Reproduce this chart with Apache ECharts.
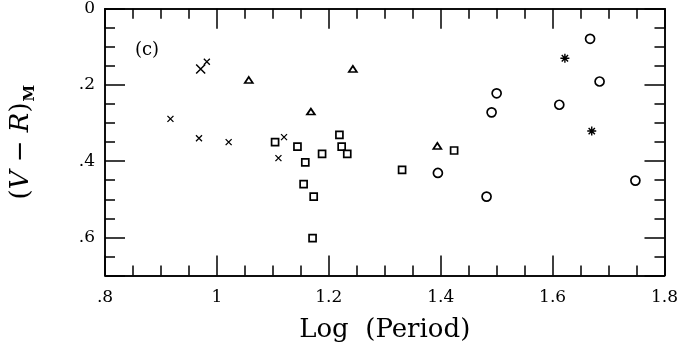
<!DOCTYPE html>
<html>
<head>
<meta charset="utf-8">
<script src="https://cdn.jsdelivr.net/npm/echarts@6/dist/echarts.min.js"></script>
<style>
  html, body { margin: 0; padding: 0; background: #fff; }
  #chart { width: 681px; height: 353px; }
</style>
</head>
<body>
<div id="chart"></div>
<script>
// values: [log P, (V-R)_M]
const crosses = [[0.917, 0.289], [0.982, 0.139], [0.968, 0.340], [1.021, 0.350], [1.120, 0.337], [1.110, 0.392]];
const bigCross = [[0.971, 0.158]];
const triangles = [[1.057, 0.187], [1.243, 0.158], [1.168, 0.270], [1.394, 0.360]];
const squares = [
  [1.104, 0.350], [1.144, 0.362], [1.219, 0.331], [1.223, 0.362], [1.233, 0.381],
  [1.188, 0.381], [1.158, 0.403], [1.155, 0.460], [1.173, 0.493], [1.171, 0.602],
  [1.331, 0.423], [1.424, 0.372]
];
const circles = [
  [1.395, 0.431], [1.667, 0.079], [1.684, 0.191], [1.500, 0.222], [1.491, 0.272],
  [1.612, 0.252], [1.748, 0.451], [1.482, 0.493]
];
const stars = [[1.622, 0.130], [1.670, 0.321]];

const xTicks = ['.8', '1', '1.2', '1.4', '1.6', '1.8'];
const yTicks = ['0', '.2', '.4', '.6'];

const serif = '"DejaVu Serif", "Liberation Serif", serif';
const black = '#000';

const crossPath = 'path://M0 0L10 10M10 0L0 10';
const starPath = 'path://M5 0L5 10M0 5L10 5M1.5 1.5L8.5 8.5M8.5 1.5L1.5 8.5';

function fmt(list, min, step) {
  return function (v) {
    const i = Math.round((v - min) / step);
    return Math.abs(min + i * step - v) < 1e-6 && list[i] !== undefined ? list[i] : '';
  };
}

function axis(kind, pos, step, len, labels) {
  const isX = kind === 'x';
  const a = {
    type: 'value',
    gridIndex: 0,
    position: pos,
    min: isX ? 0.8 : 0,
    max: isX ? 1.8 : 0.7,
    interval: step,
    inverse: !isX,
    axisLine: { show: true, onZero: false, lineStyle: { color: black, width: 1.5 } },
    axisTick: { show: true, inside: true, length: len, lineStyle: { color: black, width: 1.5 } },
    axisLabel: { show: false },
    splitLine: { show: false }
  };
  if (labels) {
    a.axisLabel = {
      show: true,
      color: black,
      fontFamily: serif,
      fontSize: 17,
      margin: isX ? 14 : 10,
      formatter: isX ? fmt(xTicks, 0.8, 0.2) : fmt(yTicks, 0, 0.2)
    };
  }
  return a;
}

const xMain = axis('x', 'bottom', 0.2, 20, true);
xMain.name = 'Log  (Period)';
xMain.nameLocation = 'middle';
xMain.nameGap = 42;
xMain.nameTextStyle = { color: black, fontFamily: serif, fontSize: 26 };

const yMain = axis('y', 'left', 0.2, 20, true);
yMain.name = '{p|(}{i|V}{p| − }{i|R}{p|)}{s|M}';
yMain.nameLocation = 'middle';
yMain.nameGap = 67;
yMain.nameRotate = 90;
yMain.nameTextStyle = {
  color: black,
  rich: {
    p: { fontFamily: serif, fontSize: 26, color: black, lineHeight: 34 },
    i: { fontFamily: serif, fontSize: 26, fontStyle: 'italic', color: black, lineHeight: 34 },
    s: { fontFamily: serif, fontSize: 15, fontWeight: 'bold', color: black, lineHeight: 34, verticalAlign: 'bottom', padding: [14, 0, 0, 1] }
  }
};

function hollow(name, data, symbol, size) {
  return {
    name: name,
    type: 'scatter',
    data: data,
    symbol: symbol,
    symbolSize: size,
    itemStyle: { color: '#fff', borderColor: black, borderWidth: 1.7, opacity: 1 },
    emphasis: { disabled: true }
  };
}

function strokes(name, data, symbol, size, width) {
  return {
    name: name,
    type: 'scatter',
    data: data,
    symbol: symbol,
    symbolSize: size,
    itemStyle: { color: 'none', borderColor: black, borderWidth: width, opacity: 1 },
    emphasis: { disabled: true }
  };
}

const chart = echarts.init(document.getElementById('chart'), null, { renderer: 'canvas' });
chart.setOption({
  animation: false,
  backgroundColor: '#fff',
  title: {
    text: '(c)',
    left: 130,
    top: 36,
    textStyle: { color: black, fontFamily: serif, fontSize: 18, fontWeight: 'normal' }
  },
  grid: { left: 99.5, right: 13, top: 8.7, bottom: 77.5 },
  xAxis: [
    xMain,
    axis('x', 'bottom', 0.05, 10, false),
    axis('x', 'top', 0.2, 20, false),
    axis('x', 'top', 0.05, 10, false)
  ],
  yAxis: [
    yMain,
    axis('y', 'left', 0.05, 10, false),
    axis('y', 'right', 0.2, 20, false),
    axis('y', 'right', 0.05, 10, false)
  ],
  series: [
    strokes('x', crosses, crossPath, 6, 1.3),
    strokes('X', bigCross, crossPath, 9, 1.5),
    hollow('triangle', triangles, 'triangle', [8, 6]),
    hollow('square', squares, 'rect', 7),
    hollow('circle', circles, 'circle', 9),
    strokes('star', stars, starPath, 9, 1.4)
  ]
});
</script>
</body>
</html>
